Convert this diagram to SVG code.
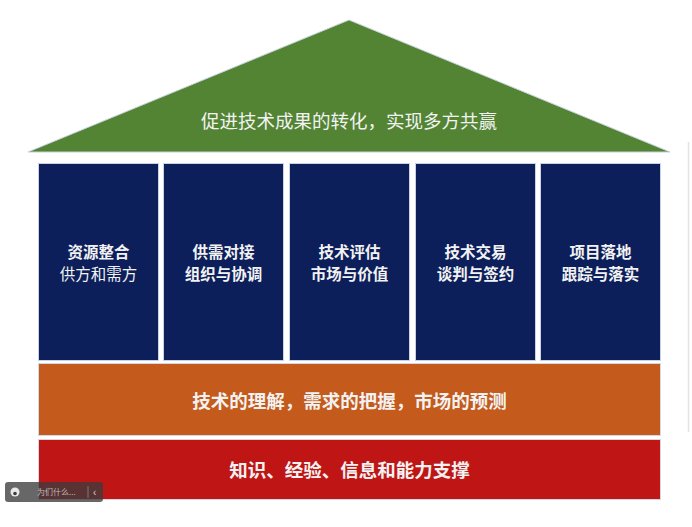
<svg xmlns="http://www.w3.org/2000/svg" width="692" height="527" viewBox="0 0 692 527">
<style>
.col{fill:#0c1f5b;stroke:#c9d3e3;stroke-width:1}
.t{font-family:"Noto Sans CJK SC","Noto Sans",sans-serif;fill:#f2f2f2;text-anchor:middle}
.ct{font-size:15.5px;font-weight:bold}
.bt{font-size:18.5px;font-weight:bold}
</style>
<rect width="692" height="527" fill="#ffffff"/>
<line x1="688.5" y1="142" x2="688.5" y2="432" stroke="#e2e4e8" stroke-width="1.5"/>
<g id="roof">
<polygon points="349,20 670,152 28,152" fill="#528434" stroke="#c6d0dc" stroke-width="1"/>
<text class="t" x="349" y="128" font-size="18.5">促进技术成果的转化，实现多方共赢</text>
</g>
<g id="pillar1">
<rect class="col" x="38.5" y="163.5" width="120" height="197"/>
<text class="t ct" x="98.5" y="258">资源整合</text>
<text class="t" x="98.5" y="279.5" font-size="15.5">供方和需方</text>
</g>
<g id="pillar2">
<rect class="col" x="163.5" y="163.5" width="120" height="197"/>
<text class="t ct" x="223.5" y="258">供需对接</text>
<text class="t ct" x="223.5" y="279.5">组织与协调</text>
</g>
<g id="pillar3">
<rect class="col" x="289.5" y="163.5" width="120" height="197"/>
<text class="t ct" x="349.5" y="258">技术评估</text>
<text class="t ct" x="349.5" y="279.5">市场与价值</text>
</g>
<g id="pillar4">
<rect class="col" x="415.5" y="163.5" width="120" height="197"/>
<text class="t ct" x="475.5" y="258">技术交易</text>
<text class="t ct" x="475.5" y="279.5">谈判与签约</text>
</g>
<g id="pillar5">
<rect class="col" x="540.5" y="163.5" width="120" height="197"/>
<text class="t ct" x="600.5" y="258">项目落地</text>
<text class="t ct" x="600.5" y="279.5">跟踪与落实</text>
</g>
<g id="base1">
<rect x="38.5" y="363.5" width="622" height="72" fill="#c45a1c" stroke="#d3d8e2" stroke-width="1"/>
<text class="t bt" x="349.5" y="407.5">技术的理解，需求的把握，市场的预测</text>
</g>
<g id="base2">
<rect x="38.5" y="439.5" width="622" height="60" fill="#bf1515" stroke="#d3d8e2" stroke-width="1"/>
<text class="t bt" x="349.5" y="476.5">知识、经验、信息和能力支撑</text>
</g>
<g id="connectors"></g>
<g id="widget">
<rect x="5" y="482" width="98" height="20" rx="3" fill="#3c3c3c" fill-opacity="0.78"/>
<circle cx="15" cy="492" r="4.5" fill="#e8e8e8"/>
<circle cx="15" cy="493.5" r="1.8" fill="#3c3c3c"/>
<text x="37" y="495" font-family="Noto Sans CJK SC,sans-serif" font-size="8" fill="#bdbdbd">为们什么...</text>
<line x1="88" y1="486" x2="88" y2="498" stroke="#8a8a8a" stroke-width="0.8"/>
<text x="93" y="495.5" font-family="Liberation Sans,sans-serif" font-size="10" fill="#d0d0d0">‹</text>
</g>
</svg>
